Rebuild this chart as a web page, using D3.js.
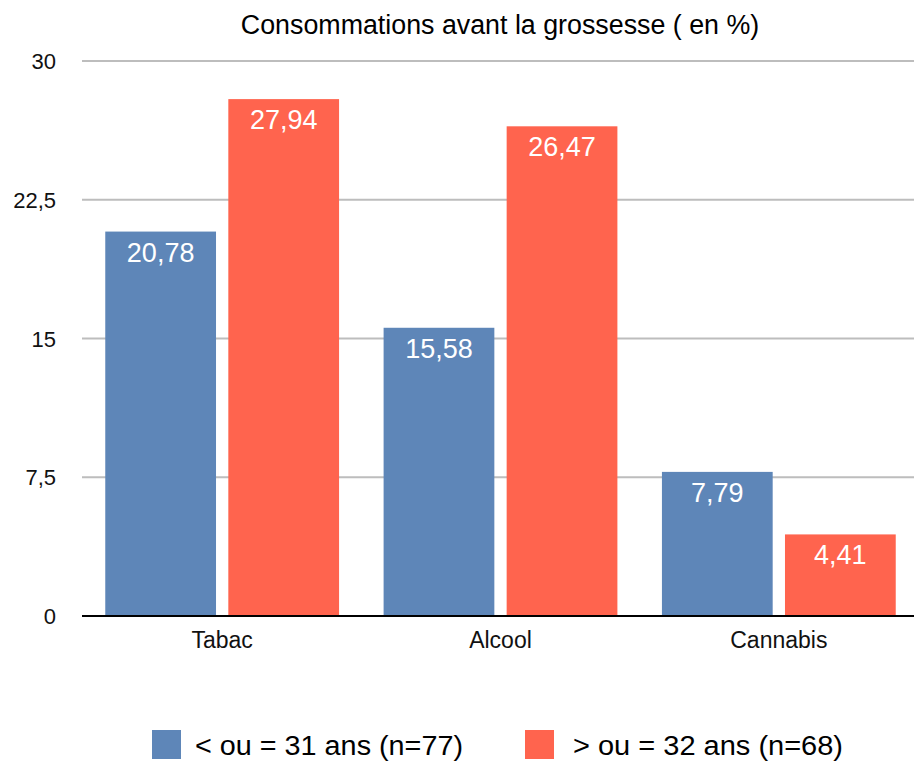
<!DOCTYPE html>
<html>
<head>
<meta charset="utf-8">
<script src="https://cdn.jsdelivr.net/npm/d3@7"></script>
<style>
  body { margin: 0; background: #fff; }
  text { font-family: "Liberation Sans", Arial, sans-serif; }
</style>
</head>
<body>
<div id="chart"></div>
<script>
const categories = ["Tabac", "Alcool", "Cannabis"];
const seriesNames = ["< ou = 31 ans (n=77)", "> ou = 32 ans (n=68)"];
const youngValues = [20.78, 15.58, 7.79];
const olderValues = [27.94, 26.47, 4.41];
const yTicks = [0, 7.5, 15, 22.5, 30];
const yTickLabels = ["0", "7,5", "15", "22,5", "30"];

const colors = ["#5E86B8", "#FF644E"];
const W = 914, H = 762;
const plotLeft = 82, plotRight = 914, plotTop = 61, plotBottom = 616;

const svg = d3.select("#chart").append("svg")
  .attr("width", W)
  .attr("height", H);

const x = d3.scaleBand()
  .domain(categories)
  .range([83, 918])
  .paddingInner(0.16)
  .paddingOuter(0.08);

const xSub = d3.scaleBand()
  .domain([0, 1])
  .range([0, x.bandwidth()])
  .paddingInner(0.1);

const y = d3.scaleLinear()
  .domain([0, 30])
  .range([plotBottom, plotTop]);

// gridlines
svg.append("g")
  .selectAll("line")
  .data(yTicks.filter(d => d > 0))
  .join("line")
  .attr("x1", plotLeft)
  .attr("x2", plotRight)
  .attr("y1", d => y(d))
  .attr("y2", d => y(d))
  .attr("stroke", "#bdbdbd")
  .attr("stroke-width", 2);

// y labels
svg.append("g")
  .selectAll("text")
  .data(yTicks)
  .join("text")
  .attr("x", 56)
  .attr("y", d => y(d) + 8)
  .attr("text-anchor", "end")
  .style("font-size", "22px")
  .attr("fill", "#111")
  .text((d, i) => yTickLabels[i]);

const rows = categories.map((c, i) => ({ cat: c, vals: [youngValues[i], olderValues[i]] }));

const groups = svg.selectAll(".grp")
  .data(rows)
  .join("g")
  .attr("transform", d => `translate(${x(d.cat)},0)`);

groups.selectAll("rect")
  .data(d => d.vals.map((v, k) => ({ k, v })))
  .join("rect")
  .attr("x", d => xSub(d.k))
  .attr("width", xSub.bandwidth())
  .attr("y", d => y(d.v))
  .attr("height", d => y(0) - y(d.v))
  .attr("fill", d => colors[d.k]);

groups.selectAll(".val")
  .data(d => d.vals.map((v, k) => ({ k, v })))
  .join("text")
  .attr("class", "val")
  .attr("x", d => xSub(d.k) + xSub.bandwidth() / 2)
  .attr("y", d => y(d.v) + 30)
  .attr("text-anchor", "middle")
  .attr("fill", "#fff")
  .style("font-size", "27px")
  .text(d => d.v.toFixed(2).replace(".", ","));

// axis line
svg.append("line")
  .attr("x1", plotLeft)
  .attr("x2", plotRight)
  .attr("y1", y(0))
  .attr("y2", y(0))
  .attr("stroke", "#000")
  .attr("stroke-width", 2);

// category labels
svg.append("g")
  .selectAll("text")
  .data(categories)
  .join("text")
  .attr("x", d => x(d) + x.bandwidth() / 2)
  .attr("y", 648)
  .attr("text-anchor", "middle")
  .style("font-size", "23px")
  .attr("fill", "#111")
  .text(d => d);

// title
svg.append("text")
  .attr("x", 500)
  .attr("y", 34)
  .attr("text-anchor", "middle")
  .style("font-size", "26.8px")
  .attr("fill", "#000")
  .text("Consommations avant la grossesse ( en %)");

// legend
const legendX = [152, 525];
const legendTextX = [195, 573];
const legendTextW = [268, 270];
const legend = svg.append("g");
seriesNames.forEach((name, i) => {
  legend.append("rect")
    .attr("x", legendX[i])
    .attr("y", 730)
    .attr("width", 29)
    .attr("height", 29)
    .attr("fill", colors[i]);
  legend.append("text")
    .attr("x", legendTextX[i])
    .attr("y", 755)
    .attr("textLength", legendTextW[i])
    .attr("lengthAdjust", "spacingAndGlyphs")
    .style("font-size", "27px")
    .attr("fill", "#000")
    .text(name);
});
</script>
</body>
</html>
